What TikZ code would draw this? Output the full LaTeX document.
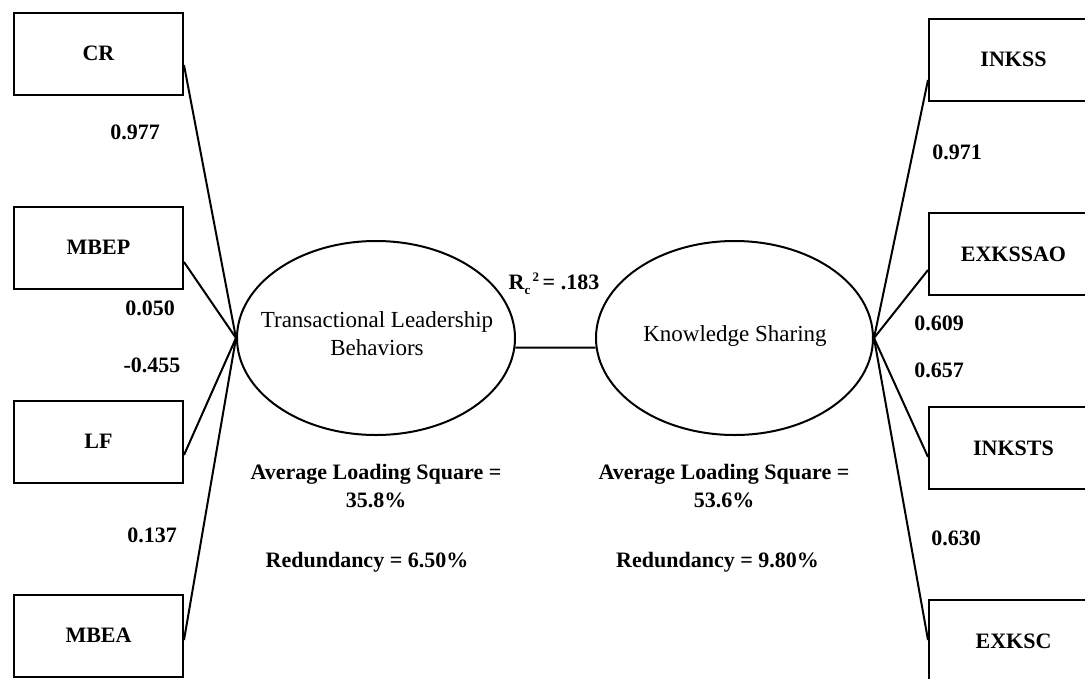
\documentclass[tikz,border=0pt]{standalone}
\usepackage{fontspec}
\setmainfont{Liberation Serif}
\usetikzlibrary{shapes.geometric}
\begin{document}
\begin{tikzpicture}[x=1pt,y=-1pt,
  indicator/.style={draw, line width=2pt, minimum width=169pt, minimum height=82pt,
    inner sep=0pt, font=\fontsize{22}{26}\selectfont\bfseries},
  construct/.style={draw, ellipse, line width=2pt, minimum width=278pt,
    minimum height=194pt, inner sep=0pt},
  ctext/.style={align=center, inner sep=0pt, font=\fontsize{23}{28}\selectfont},
  loading/.style={inner sep=0pt, font=\fontsize{22}{26}\selectfont\bfseries},
  stat/.style={align=center, inner sep=0pt, font=\fontsize{22}{28}\selectfont\bfseries},
  link/.style={line width=2pt}]

  % canvas
  \useasboundingbox (0,0) rectangle (1085,678);
  \fill[white] (0,0) rectangle (1085,678);
  \clip (0,0) rectangle (1085,678);

  % latent constructs
  \node[construct] (tl) at (376,338) {};
  \node[ctext] (tltext) at (377,334) {Transactional Leadership\\Behaviors};
  \node[construct, minimum width=277pt] (ks) at (734.5,338) {};
  \node[ctext] (kstext) at (735,336) {Knowledge Sharing};

  % indicators of transactional leadership
  \node[indicator] (cr)   at (98.5,53.5)  {CR};
  \node[indicator] (mbep) at (98.5,247.5) {MBEP};
  \node[indicator] (lf)   at (98.5,441.5) {LF};
  \node[indicator] (mbea) at (98.5,635.5) {MBEA};

  % indicators of knowledge sharing
  \node[indicator] (inkss)   at (1013.5,59.5) {INKSS};
  \node[indicator] (exkssao) at (1013.5,254)  {EXKSSAO};
  \node[indicator] (inksts)  at (1013.5,448)  {INKSTS};
  \node[indicator] (exksc)   at (1013.5,641)  {EXKSC};

  % loadings (left)
  \draw[link] ([yshift=-11.5pt]cr.east)   -- (tl.west);
  \draw[link] ([yshift=-14.5pt]mbep.east) -- (tl.west);
  \draw[link] ([yshift=-13.5pt]lf.east)   -- (tl.west);
  \draw[link] ([yshift=-4.5pt]mbea.east)  -- (tl.west);

  % loadings (right)
  \draw[link] ([yshift=-20.5pt]inkss.west) -- (ks.east);
  \draw[link] ([yshift=-16pt]exkssao.west) -- (ks.east);
  \draw[link] ([yshift=-9pt]inksts.west)   -- (ks.east);
  \draw[link] ([yshift=1pt]exksc.west)     -- (ks.east);

  % canonical correlation
  \draw[link] (tl.-4) -- (ks.184);
  \node[loading] (rc) at (554,284) {R\raisebox{-5pt}{\fontsize{13}{13}\selectfont c}\raisebox{8pt}{\fontsize{13}{13}\selectfont\,2}\,= .183};

  % loading values
  \node[loading] (l1) at (135,132) {0.977};
  \node[loading] (l2) at (150,308) {0.050};
  \node[loading] (l3) at (152,365) {-0.455};
  \node[loading] (l4) at (152,535) {0.137};
  \node[loading] (r1) at (957,152) {0.971};
  \node[loading] (r2) at (939,323) {0.609};
  \node[loading] (r3) at (939,370) {0.657};
  \node[loading] (r4) at (956,538) {0.630};

  % summary statistics
  \node[stat] (als1) at (376,486) {Average Loading Square =\\35.8\%};
  \node[stat] (red1) at (367,562) {Redundancy = 6.50\%};
  \node[stat] (als2) at (724,486) {Average Loading Square =\\53.6\%};
  \node[stat] (red2) at (717.5,562) {Redundancy = 9.80\%};
\end{tikzpicture}
\end{document}
